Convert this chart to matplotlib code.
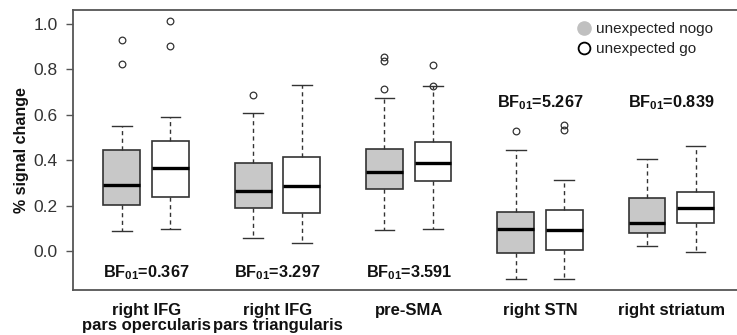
import matplotlib
matplotlib.use("Agg")
import matplotlib.pyplot as plt
from matplotlib.lines import Line2D

plt.rcParams['font.family'] = ['Liberation Sans', 'DejaVu Sans']
plt.rcParams['mathtext.fontset'] = 'custom'
plt.rcParams['mathtext.rm'] = 'Liberation Sans'
plt.rcParams['mathtext.bf'] = 'Liberation Sans:bold'

categories = ["right IFG\npars opercularis", "right IFG\npars triangularis", "pre-SMA",
              "right STN", "right striatum"]
series = ["unexpected nogo", "unexpected go"]

# box statistics: [whislo, q1, median, q3, whishi] per category
nogo_stats = [
    [0.087, 0.203, 0.291, 0.443, 0.552],
    [0.057, 0.189, 0.263, 0.388, 0.608],
    [0.094, 0.273, 0.348, 0.448, 0.673],
    [-0.122, -0.010, 0.098, 0.173, 0.446],
    [0.023, 0.078, 0.123, 0.233, 0.407],
]
go_stats = [
    [0.097, 0.238, 0.364, 0.485, 0.592],
    [0.034, 0.166, 0.288, 0.413, 0.733],
    [0.098, 0.310, 0.389, 0.479, 0.725],
    [-0.122, 0.003, 0.094, 0.182, 0.311],
    [-0.004, 0.123, 0.191, 0.261, 0.464],
]
nogo_outliers = [[0.93, 0.825], [0.689], [0.855, 0.838, 0.712], [0.529], []]
go_outliers = [[1.013, 0.904], [], [0.821, 0.725], [0.553, 0.531], []]

bf_labels = ["0.367", "3.297", "3.591", "5.267", "0.839"]
bf_y = [-0.097, -0.097, -0.097, 0.652, 0.652]

yticks = [0.0, 0.2, 0.4, 0.6, 0.8, 1.0]

fig = plt.figure(figsize=(7.37, 3.35), dpi=100)
ax = fig.add_axes([73/737, 1 - 290/335, 1 - 73/737, 280/335])

def mkstats(s, fl):
    return dict(whislo=s[0], q1=s[1], med=s[2], q3=s[3], whishi=s[4], fliers=fl)

edge = '#333333'
offset = 0.185
width = 0.28
for i in range(len(categories)):
    for j, (stats, outs, fc) in enumerate([(nogo_stats, nogo_outliers, '#c8c8c8'),
                                          (go_stats, go_outliers, 'white')]):
        pos = i + 1 + (-offset if j == 0 else offset)
        ax.bxp([mkstats(stats[i], outs[i])], positions=[pos], widths=width,
               patch_artist=True, capwidths=[0.15],
               boxprops=dict(facecolor=fc, edgecolor=edge, linewidth=1.2),
               medianprops=dict(color='black', linewidth=2.4),
               whiskerprops=dict(color=edge, linewidth=1.0, linestyle=(0, (3, 2.5))),
               capprops=dict(color=edge, linewidth=1.0),
               flierprops=dict(marker='o', markersize=4.8, markerfacecolor='none',
                               markeredgecolor=edge, markeredgewidth=0.9))

for i, (lab, yy) in enumerate(zip(bf_labels, bf_y)):
    ax.text(i + 1, yy, r'BF$_{\mathbf{01}}$=' + lab, ha='center', va='center',
            fontsize=11.7, fontweight='bold', color='#111111')

ax.set_xlim(0.443, 5.5)
ax.set_ylim(-0.172, 1.062)
ax.set_xticks(range(1, len(categories) + 1))
ax.set_xticklabels(categories, fontsize=12, fontweight='bold', linespacing=1.05,
                   color='#111111')
ax.tick_params(axis='x', length=0, pad=9)
ax.set_yticks(yticks)
ax.set_yticklabels([f"{v:.1f}" for v in yticks], fontsize=12.5, color='#333333')
ax.tick_params(axis='y', length=5, width=1, color='#555555', pad=6)
ax.set_ylabel('% signal change', fontsize=11.5, fontweight='bold', labelpad=3,
              color='#111111')

for s in ['left', 'top', 'bottom']:
    ax.spines[s].set_color('#555555')
    ax.spines[s].set_linewidth(1.3)
ax.spines['right'].set_visible(False)

handles = [Line2D([], [], marker='o', linestyle='none', markersize=9.5,
                  markerfacecolor='#c0c0c0', markeredgecolor='#c0c0c0'),
           Line2D([], [], marker='o', linestyle='none', markersize=8.5,
                  markerfacecolor='white', markeredgecolor='black', markeredgewidth=1.3)]
leg = fig.legend(handles, series, loc='upper left', bbox_to_anchor=(579/737, 1 - 22/335),
                 frameon=False, fontsize=11, handlelength=0.7, handletextpad=0.4,
                 labelspacing=0.4, borderpad=0, borderaxespad=0)
for t in leg.get_texts():
    t.set_color('#222222')

fig.savefig('out.png', dpi=100)
